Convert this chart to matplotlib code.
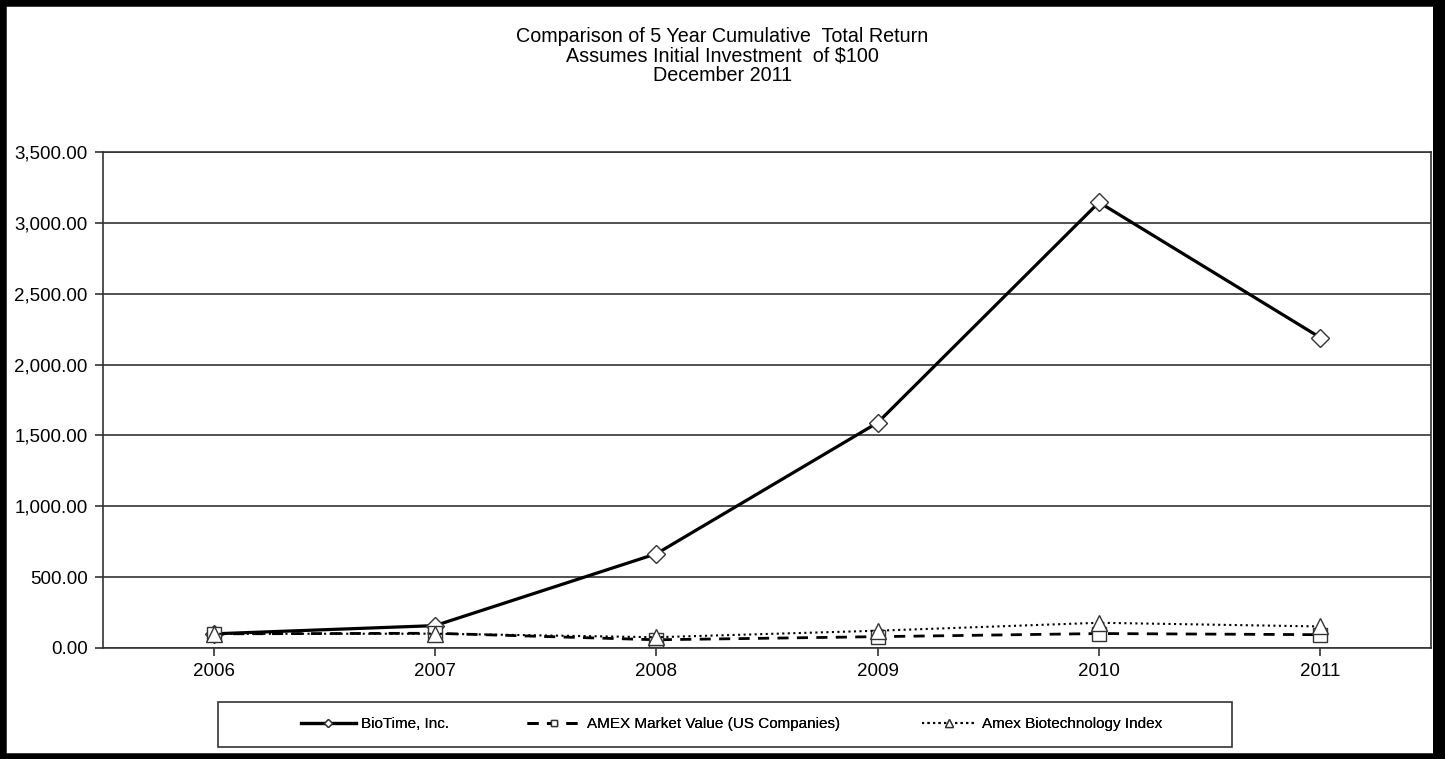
import numpy as np
import matplotlib.pyplot as plt
from matplotlib.patches import Rectangle
from matplotlib.ticker import FuncFormatter

plt.rcParams['font.family'] = ['Liberation Sans Narrow', 'Liberation Sans', 'DejaVu Sans']

# data
years = ['2006', '2007', '2008', '2009', '2010', '2011']
biotime = [100.00, 158.00, 665.00, 1590.00, 3145.00, 2190.00]
amex_market = [100.00, 104.00, 58.00, 80.00, 102.00, 94.00]
amex_biotech = [100.00, 101.00, 76.00, 122.00, 178.00, 152.00]

series_names = ['BioTime, Inc.', 'AMEX Market Value (US Companies)', 'Amex Biotechnology Index']

W, H = 1445, 759
fig = plt.figure(figsize=(W / 100, H / 100), dpi=100)

# black frame around the whole picture
fig.patches.append(Rectangle((0, 0), 1, 1, transform=fig.transFigure, fill=False,
                             edgecolor='black', linewidth=9, zorder=10))
fig.patches.append(Rectangle((1433 / W, 0), 12 / W, 1, transform=fig.transFigure,
                             facecolor='black', edgecolor='none', zorder=10))

ax = fig.add_axes([103 / W, 1 - 648 / H, (1431 - 103) / W, (648 - 152) / H])
x = np.arange(len(years))

lines = []
lines += ax.plot(x, biotime, color='black', linewidth=2.3, linestyle='-', marker='D',
                 markersize=9, markerfacecolor='white', markeredgecolor='#333333',
                 markeredgewidth=1.0, zorder=3)
lines += ax.plot(x, amex_market, color='black', linewidth=2.0, linestyle=(0, (4, 3)), marker='s',
                 markersize=10, markerfacecolor='white', markeredgecolor='#333333',
                 markeredgewidth=1.0, zorder=3)
lines += ax.plot(x, amex_biotech, color='black', linewidth=1.5, linestyle=':', marker='^',
                 markersize=11, markerfacecolor='white', markeredgecolor='#333333',
                 markeredgewidth=1.0, zorder=3)

ax.set_xlim(-0.5, len(years) - 0.5)
ax.set_ylim(0, 3500)
ax.set_yticks(np.arange(0, 3501, 500))
ax.yaxis.set_major_formatter(FuncFormatter(lambda v, p: f'{v:,.2f}'))
ax.set_xticks(x)
ax.set_xticklabels(years)
ax.grid(axis='y', color='#333333', linewidth=1.2)
ax.set_axisbelow(True)
for s in ax.spines.values():
    s.set_color('#333333')
    s.set_linewidth(1.2)
ax.tick_params(axis='both', direction='out', length=6, width=1.2, color='#333333',
               labelsize=13.5, pad=5)

fig.text(0.5, 1 - 56 / H, 'Comparison of 5 Year Cumulative  Total Return\n'
         'Assumes Initial Investment  of $100\nDecember 2011',
         ha='center', va='center', fontsize=14.2, linespacing=1.02)

# legend box drawn by hand, one entry per slot
fig.patches.append(Rectangle((218 / W, 1 - 747 / H), (1232 - 218) / W, 45 / H,
                             transform=fig.transFigure, fill=False, edgecolor='#333333',
                             linewidth=1.2))
slots = [297, 523, 918]
for line, name, left in zip(lines, series_names, slots):
    leg = fig.legend([line], [name], loc='center left',
                     bbox_to_anchor=((left - 4) / W, 1 - 724 / H), frameon=False,
                     fontsize=11, handlelength=3.6, handletextpad=0.35,
                     borderpad=0, markerscale=0.5)
    fig.add_artist(leg)

plt.savefig('out.png', dpi=100)
